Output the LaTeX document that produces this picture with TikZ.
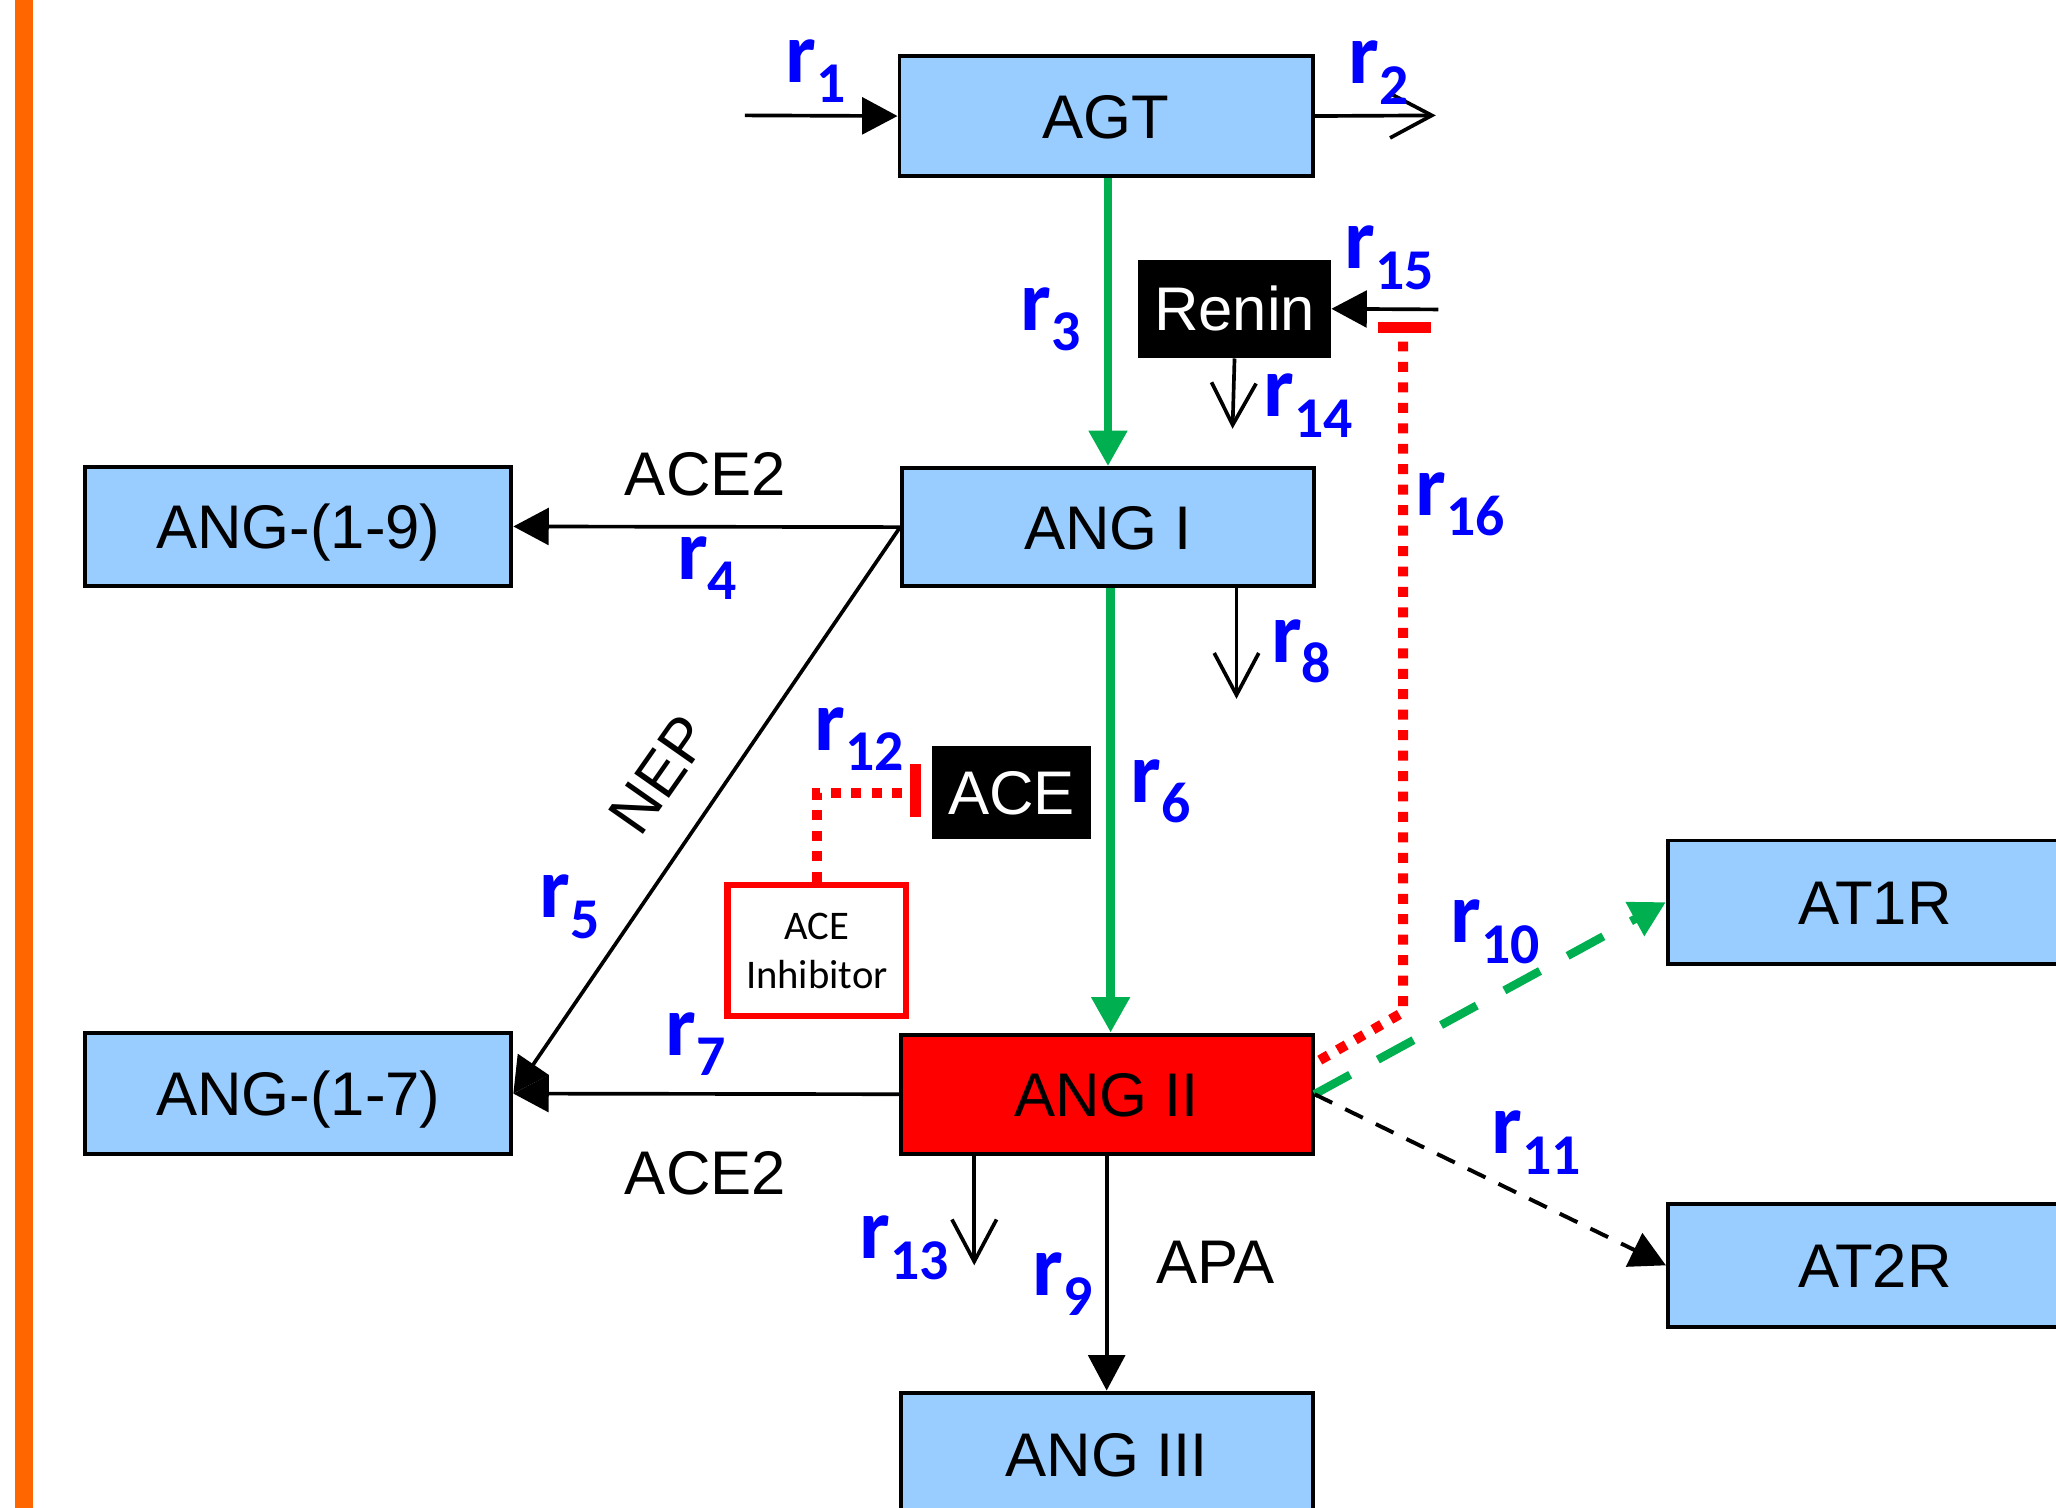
\documentclass[tikz,border=0pt]{standalone}
\usepackage{fontspec}
\setmainfont{Liberation Sans}
\newfontfamily\calfont{Carlito}
\usetikzlibrary{arrows.meta,calc}
\definecolor{boxblue}{HTML}{99CCFF}
\definecolor{rgreen}{HTML}{00B050}
\definecolor{rblue}{HTML}{0000FF}
\definecolor{barorange}{HTML}{FF6600}
\newcommand{\rl}[1]{{\calfont\bfseries\fontsize{33}{36}\selectfont r\raisebox{-7.75pt}{\fontsize{22}{24}\selectfont #1}}}
\begin{document}
\begin{tikzpicture}[x=0.5pt,y=-0.5pt,
  box/.style={draw, line width=1.5pt, fill=boxblue, inner sep=0pt, text height=16.8pt, text depth=0pt, font=\fontsize{23.5}{28}\selectfont},
  blk/.style={fill=black, text=white, inner sep=0pt, text height=16.8pt, text depth=0pt, font=\fontsize{23.5}{28}\selectfont},
  rlab/.style={text=rblue, inner sep=0pt, anchor=base west},
  plain/.style={inner sep=0pt, font=\fontsize{23.5}{28}\selectfont},
  ln/.style={line width=1.4pt},
  tri/.style={-{Triangle[length=13.5pt,width=14pt]}},
  vee/.style={-{Straight Barb[length=16pt,width=17pt]}},
  dotr/.style={red, line width=3.8pt, dash pattern=on 3.8pt off 4pt},
  gthick/.style={rgreen, line width=3.2pt},
  ibar/.style={red, line width=4.2pt}
]
\useasboundingbox (0,0) rectangle (1568,1150);
\fill[barorange] (11.5,0) rectangle (25,1150);

% boxes
\node[box, minimum width=157.5pt, minimum height=45.5pt] (agt) at (843.5,88.5) {AGT};
\node[box, minimum width=157pt, minimum height=45pt] (ang1) at (845,402) {ANG I};
\node[box, minimum width=162.5pt, minimum height=45.5pt] (ang19) at (227.5,401.5) {ANG-(1-9)};
\node[box, minimum width=162.5pt, minimum height=46pt] (ang17) at (227.5,834) {ANG-(1-7)};
\node[box, fill=red, minimum width=157pt, minimum height=45.5pt] (ang2) at (844,834.5) {ANG II};
\node[box, minimum width=157pt, minimum height=47pt] (ang3) at (844,1109) {ANG III};
\node[box, minimum width=158pt, minimum height=47pt] (at1r) at (1430,688) {AT1R};
\node[box, minimum width=158pt, minimum height=47pt] (at2r) at (1430,965) {AT2R};
\node[blk, minimum width=73.5pt, minimum height=37.5pt] (renin) at (941.5,235.5) {Renin};
\node[blk, minimum width=60.5pt, minimum height=35.5pt] (ace) at (771.5,604.5) {ACE};
\node[draw=red, line width=2.5pt, fill=white, minimum width=68pt, minimum height=50pt, inner sep=0pt, align=center,
  font=\calfont\fontsize{15.5}{18.7}\selectfont] (aceinh) at (623,725) {ACE\\Inhibitor};

% free ends
\coordinate (r1s) at (568,88);
\coordinate (r2e) at (1095,88);
\coordinate (r15s) at (1097,236);
\coordinate (r14e) at (940,327);
\coordinate (r8e) at (943,533);
\coordinate (r13e) at (743,965);
\coordinate (r16a) at (1070,772);
\coordinate (r16b) at (1070,252);
\coordinate (r16l) at (1051,250);
\coordinate (r16r) at (1091,250);
\coordinate (r12a) at (623,605);
\coordinate (r12b) at (692,605);
\coordinate (r12t) at (698,583);
\coordinate (r12u) at (698,623);

% connectors
\draw[ln, tri] (r1s) -- (agt.west);
\draw[ln, vee] (agt.east) -- (r2e);
\draw[gthick, tri] (agt.south -| ang1.north) -- (ang1.north);
\draw[ln, tri] (r15s) -- (renin.east);
\draw[ln, vee] (renin.south) -- (r14e);
\draw[ln, tri] (ang1.west) -- (ang19.east);
\draw[ln, tri] (ang1.west) -- (ang17.east);
\draw[gthick, tri] ([xshift=1pt]ang1.south) -- ([xshift=1.5pt]ang2.north);
\draw[ln, vee] ([xshift=49pt]ang1.south) -- (r8e);
\draw[ln, tri] (ang2.west) -- (ang17.east);
\draw[ln, tri] (ang2.south -| ang3.north) -- (ang3.north);
\draw[ln, vee] ([xshift=-50.5pt]ang2.south) -- (r13e);
\draw[gthick, dash pattern=on 15.5pt off 12pt, tri] (ang2.east) -- (at1r.west);
\draw[line width=1.5pt, dash pattern=on 7.5pt off 5.5pt, tri] (ang2.east) -- (at2r.west);
\draw[dotr] ([xshift=2pt,yshift=13pt]ang2.east) -- (r16a) -- (r16b);
\draw[ibar] (r16l) -- (r16r);
\draw[dotr] (aceinh.north) -- (r12a) -- (r12b);
\draw[ibar] (r12t) -- (r12u);

% texts
\node[plain] (ace2a) at (538,362) {ACE2};
\node[plain] (ace2b) at (538,895) {ACE2};
\node[plain] (apa) at (927,963) {APA};
\node[plain, rotate=55] (nep) at (503,591) {NEP};

\node[rlab] (lr1) at (599,63) {\rl{1}};
\node[rlab] (lr2) at (1028,64) {\rl{2}};
\node[rlab] (lr3) at (778,252) {\rl{3}};
\node[rlab] (lr15) at (1025,205) {\rl{15}};
\node[rlab] (lr14) at (963,318) {\rl{14}};
\node[rlab] (lr16) at (1079,393) {\rl{16}};
\node[rlab] (lr4) at (516,442) {\rl{4}};
\node[rlab] (lr8) at (969,505) {\rl{8}};
\node[rlab] (lr12) at (621,572) {\rl{12}};
\node[rlab] (lr6) at (862,612) {\rl{6}};
\node[rlab] (lr5) at (411,700) {\rl{5}};
\node[rlab] (lr10) at (1106,719) {\rl{10}};
\node[rlab] (lr7) at (507,805) {\rl{7}};
\node[rlab] (lr11) at (1137,880) {\rl{11}};
\node[rlab] (lr13) at (655,960) {\rl{13}};
\node[rlab] (lr9) at (787,988) {\rl{9}};
\end{tikzpicture}
\end{document}
